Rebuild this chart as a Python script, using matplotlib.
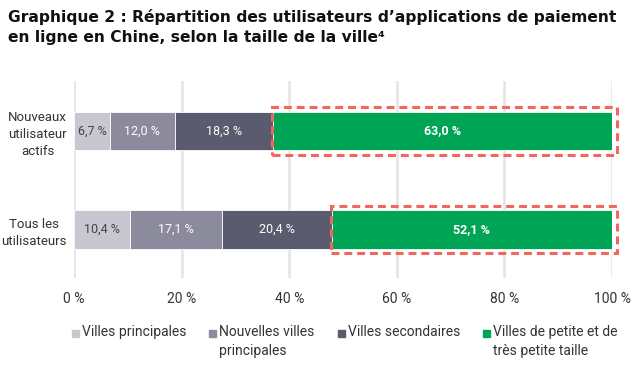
import matplotlib
matplotlib.use("Agg")
import matplotlib.pyplot as plt
from matplotlib.patches import Rectangle
import numpy as np

plt.rcParams['font.family'] = ['Roboto', 'DejaVu Sans']

groupes = ["Tous les\nutilisateurs", "Nouveaux\nutilisateur\nactifs"]
categories = ["Villes principales", "Nouvelles villes\nprincipales",
              "Villes secondaires", "Villes de petite et de\ntrès petite taille"]
valeurs = {
    "Villes principales": [10.4, 6.7],
    "Nouvelles villes\nprincipales": [17.1, 12.0],
    "Villes secondaires": [20.4, 18.3],
    "Villes de petite et de\ntrès petite taille": [52.1, 63.0],
}
couleurs = ["#c7c7d1", "#8b8b9d", "#5b5b6f", "#00a455"]
couleurs_texte = ["#444444", "white", "white", "white"]
ticks = [0, 20, 40, 60, 80, 100]

fig = plt.figure(figsize=(6.4, 3.65), dpi=100)
ax = fig.add_axes([74/640, 1-278/365, 538/640, 197/365])

y = np.arange(len(groupes))
gauche = np.zeros(len(groupes))
for i, cat in enumerate(categories):
    v = np.array(valeurs[cat])
    ax.barh(y, v, left=gauche, height=0.39, color=couleurs[i],
            edgecolor="white", linewidth=0.6, zorder=3)
    for j in range(len(groupes)):
        txt = f"{v[j]:.1f} %".replace(".", ",")
        ax.text(gauche[j] + v[j]/2, y[j], txt, ha="center", va="center",
                color=couleurs_texte[i], fontsize=9, zorder=4,
                fontweight="bold" if i == 3 else "normal")
    if i == 3:
        for j in range(len(groupes)):
            ax.add_patch(Rectangle((gauche[j] - 0.2, y[j] - 0.24),
                                   v[j] + 1.1, 0.48, fill=False,
                                   edgecolor="#f4665c", linestyle=(0, (2.6, 1.6)),
                                   linewidth=2.2, zorder=5, clip_on=False))
    gauche += v

ax.set_xlim(0, 100)
ax.set_ylim(-0.492, 1.508)
ax.set_xticks(ticks)
ax.set_xticklabels([f"{t} %" for t in ticks], fontsize=10, color="#333333")
ax.set_yticks(y)
ax.set_yticklabels(groupes, fontsize=9.5, color="#333333", linespacing=1.42)
for lab in ax.get_yticklabels():
    lab.set_multialignment("center")
ax.tick_params(length=0, pad=5)
ax.tick_params(axis="x", pad=10)
ax.grid(axis="x", color="#e4e4e4", linewidth=1.8, zorder=0)
for s in ax.spines.values():
    s.set_visible(False)

fig.text(8/640, 1-9/365, "Graphique 2 : Répartition des utilisateurs d’applications de paiement\nen ligne en Chine, selon la taille de la ville⁴",
         ha="left", va="top", fontsize=11.2, fontweight="bold", color="#111111",
         family=["DejaVu Sans"], linespacing=1.45)

# légende
pos_x = [72, 209, 338, 483]
for i, cat in enumerate(categories):
    fig.patches.append(Rectangle((pos_x[i]/640, 1-337/365), 7/640, 7/365,
                                 transform=fig.transFigure, color=couleurs[i]))
    fig.text((pos_x[i] + 10)/640, 1-325/365, cat, ha="left", va="top",
             fontsize=10, color="#333333", linespacing=1.45)

fig.savefig("out.png", dpi=100, facecolor="white")
